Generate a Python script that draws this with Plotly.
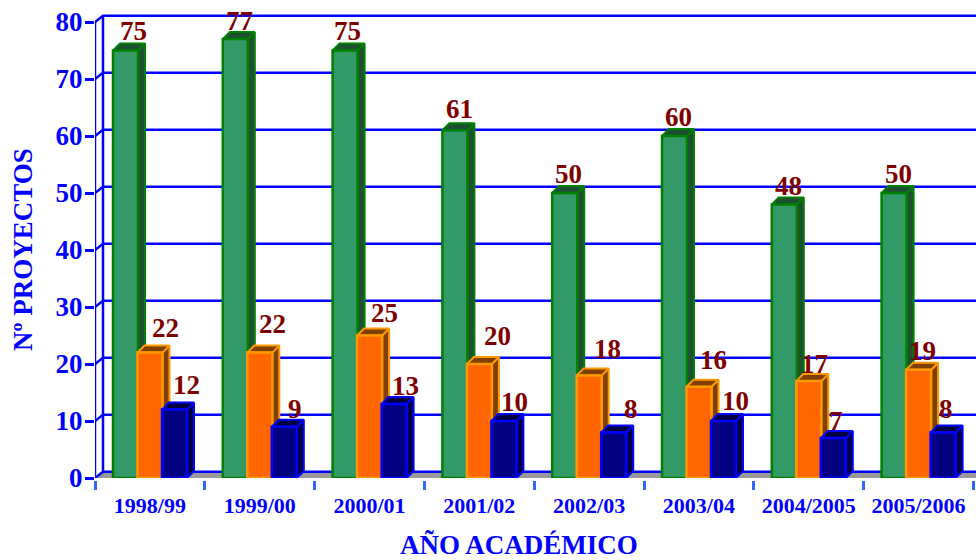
import plotly.graph_objects as go

categories = ["1998/99", "1999/00", "2000/01", "2001/02", "2002/03", "2003/04", "2004/2005", "2005/2006"]
verde = [75, 77, 75, 61, 50, 60, 48, 50]
naranja = [22, 22, 25, 20, 18, 16, 17, 19]
azul = [12, 9, 13, 10, 8, 10, 7, 8]
y_ticks = list(range(0, 90, 10))

# pixel geometry
W, H = 976, 560
L, T, B = 95, 4, 478
CAT_PX = 109.8
UNIT_PX = 5.7
x_max = (W - L) / CAT_PX
y_max = (B - T) / UNIT_PX
BAR_PX = 25
STEP_PX = 24.5
START_PX = 18
DX, DY = 7 / CAT_PX, 7 / UNIT_PX
WX, WY = 8 / CAT_PX, 6.3 / UNIT_PX

BLUE = "#0000FF"
LBLUE = "#3366FF"
LABEL = "#800000"
SERIF = "Liberation Serif"

series = [
    (verde, "#339966", "#008000", "#1F4F33"),
    (naranja, "#FF6600", "#FF9900", "#7F3F00"),
    (azul, "#000080", "#0000FF", "#000040"),
]
# manual label nudges (px), per series per category
nudge_x = [
    [8, 4, 2, 5, 4, 4, 4, 4],
    [15, 13, 15, 18, 18, 14, 6, 4],
    [12, 11, 11, 11, 17, 12, 3, 3],
]
nudge_y = [
    [-20, -18, -20, -21, -19, -19, -18, -19],
    [-25, -29, -23, -28, -26, -27, -17, -19],
    [-25, -18, -18, -19, -23, -20, -17, -23],
]

fig = go.Figure()

# floor
fig.add_trace(go.Scatter(x=[0, WX, x_max, x_max, 0], y=[0, WY, WY, 0, 0], mode="lines", fill="toself",
                         fillcolor="#999999", line=dict(width=0), hoverinfo="skip", showlegend=False, zorder=0))
# back wall grid
gx, gy = [], []
for v in y_ticks:
    gx += [0, WX, x_max, None]
    gy += [v, v + WY, v + WY, None]
fig.add_trace(go.Scatter(x=gx, y=gy, mode="lines", line=dict(color=BLUE, width=2.5),
                         hoverinfo="skip", showlegend=False, zorder=1))
# wall verticals (back edge and front edge)
fig.add_trace(go.Scatter(x=[WX, WX, None, 0, 0], y=[WY, 80 + WY, None, 0, 80], mode="lines",
                         line=dict(color=BLUE, width=2.5), hoverinfo="skip", showlegend=False, zorder=1))

z = 2
for s, (vals, face, edge, dark) in enumerate(series):
    off = (START_PX + s * STEP_PX) / CAT_PX
    w = BAR_PX / CAT_PX
    sx, sy, tx, ty = [], [], [], []
    for i, v in enumerate(vals):
        x0 = i + off
        x1 = x0 + w
        sx += [x1, x1 + DX, x1 + DX, x1, x1, None]
        sy += [0, DY, v + DY, v, 0, None]
        tx += [x0, x0 + DX, x1 + DX, x1, x0, None]
        ty += [v, v + DY, v + DY, v, v, None]
    fig.add_trace(go.Scatter(x=sx, y=sy, mode="lines", fill="toself", fillcolor=dark, line=dict(color=edge, width=2),
                             cliponaxis=False, hoverinfo="skip", showlegend=False, zorder=z))
    fig.add_trace(go.Scatter(x=tx, y=ty, mode="lines", fill="toself", fillcolor=dark, line=dict(color=edge, width=2),
                             cliponaxis=False, hoverinfo="skip", showlegend=False, zorder=z))
    fig.add_trace(go.Bar(x=[i for i in range(len(vals))], y=vals, width=w, offset=off,
                         marker=dict(color=face, line=dict(color=edge, width=2.5)),
                         cliponaxis=False, showlegend=False, zorder=z + 1))
    z += 2
    for i, v in enumerate(vals):
        fig.add_annotation(x=i + off + w / 2, y=v, text=f"<b>{v}</b>", showarrow=False,
                           xshift=nudge_x[s][i], yshift=-nudge_y[s][i],
                           font=dict(family=SERIF, size=27, color=LABEL))

fig.add_annotation(xref="paper", yref="paper", x=(519 - L) / (W - L), y=(B - 545) / (B - T),
                   xanchor="center", yanchor="middle",
                   text="<b>AÑO ACADÉMICO</b>", showarrow=False,
                   font=dict(family=SERIF, size=27, color=BLUE))
fig.add_annotation(xref="paper", yref="paper", x=(23 - L) / (W - L), y=(B - 250) / (B - T),
                   xanchor="center", yanchor="middle", textangle=-90,
                   text="<b>Nº PROYECTOS</b>", showarrow=False,
                   font=dict(family=SERIF, size=27, color=BLUE))

fig.update_layout(
    width=W, height=H, autosize=False,
    margin=dict(l=L, r=0, t=T, b=H - B, pad=0),
    paper_bgcolor="white", plot_bgcolor="white",
    barmode="overlay",
    xaxis=dict(range=[0, x_max], tickmode="array", tickvals=[i + 0.5 for i in range(8)], ticktext=[f"<b>{c}</b>" for c in categories],
               ticks="outside", ticklen=6, tickcolor="rgba(0,0,0,0)", tickwidth=1,
               tickfont=dict(family=SERIF, size=22, color=BLUE), showgrid=False, zeroline=False,
               showline=True, linecolor=LBLUE, linewidth=3,
               minor=dict(tickmode="array", tickvals=list(range(9)), ticks="outside", ticklen=9, tickwidth=2.5, tickcolor=LBLUE, showgrid=False)),
    yaxis=dict(range=[0, y_max], tickmode="array", tickvals=y_ticks, ticktext=[f"<b>{v}</b>" for v in y_ticks],
               ticks="outside", ticklen=9, tickwidth=2.5, tickcolor=BLUE, ticklabelstandoff=-3,
               tickfont=dict(family=SERIF, size=27, color=BLUE), showgrid=False, zeroline=False,
               showline=False),
)
fig.write_html("out.html", post_script="document.body.style.margin='0';", config={"displayModeBar": False})
